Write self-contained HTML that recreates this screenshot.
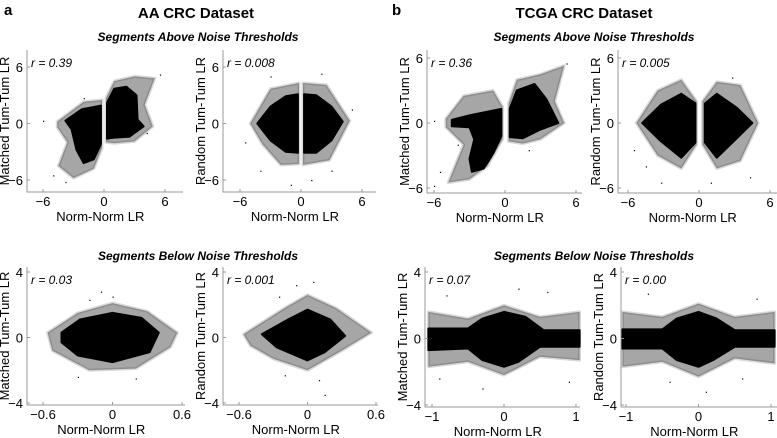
<!DOCTYPE html>
<html><head><meta charset="utf-8"><style>
html,body{margin:0;padding:0;background:#fff}
svg{display:block;font-family:"Liberation Sans",sans-serif}
</style></head><body>
<svg id="fig" width="777" height="438" viewBox="0 0 777 438">
<text x="4" y="15" font-size="15" font-weight="bold">a</text>
<text x="392" y="15" font-size="15" font-weight="bold">b</text>
<text x="196" y="18" font-size="15" font-weight="bold" text-anchor="middle">AA CRC Dataset</text>
<text x="584" y="18" font-size="15" font-weight="bold" text-anchor="middle">TCGA CRC Dataset</text>
<text x="198" y="41" font-size="12" font-weight="bold" font-style="italic" text-anchor="middle">Segments Above Noise Thresholds</text>
<text x="594" y="41" font-size="12" font-weight="bold" font-style="italic" text-anchor="middle">Segments Above Noise Thresholds</text>
<text x="198" y="260" font-size="12" font-weight="bold" font-style="italic" text-anchor="middle">Segments Below Noise Thresholds</text>
<text x="594" y="260" font-size="12" font-weight="bold" font-style="italic" text-anchor="middle">Segments Below Noise Thresholds</text>
</svg>
<script>
// ---- data (density envelopes in data units) ----
const xTicksBig = [-6, 0, 6];
const yTicksBig = [-6, 0, 6];
const xTicksAA = [-0.6, 0, 0.6];
const xTicksTC = [-1, 0, 1];
const yTicksSmall = [-4, 0, 4];
const rLabels = ["r = 0.39", "r = 0.008", "r = 0.03", "r = 0.001", "r = 0.36", "r = 0.005", "r = 0.07", "r = 0.00"];
const yLabels = ["Matched Tum-Tum LR", "Random Tum-Tum LR", "Matched Tum-Tum LR", "Random Tum-Tum LR", "Matched Tum-Tum LR", "Random Tum-Tum LR", "Matched Tum-Tum LR", "Random Tum-Tum LR"];

const p1Core = [
 [[-3.8,0.3],[-2.2,1.5],[-0.3,1.9],[-0.3,-2.2],[-1,-3.8],[-2,-4.2],[-2.7,-2.8],[-3.2,-0.6]],
 [[0.3,-1.6],[0.3,2.2],[1,3.7],[2.2,3.9],[3.2,3],[3.3,0.4],[3.9,-0.3],[2.5,-1.4],[1,-1.5]]];
const p1Halo = [
 [[-4.6,0.2],[-2,2.3],[-0.2,2.5],[-0.2,-2.6],[-1,-4.8],[-3,-5.8],[-4.5,-4.5],[-3.6,-2],[-4.6,-0.4]],
 [[0.2,-2],[0.2,2.7],[1,4.5],[3,5],[5,4.8],[4,2],[4.8,-0.3],[3,-1.9],[1,-2.1]]];
const p1Pts = [[-6,0.3],[-5,-5.5],[5.5,5.2],[-3.8,-6.2],[4.2,-1],[-2,2.7]];

const p2Core = [
 [[-4.3,0],[-3,1.8],[-1.5,2.9],[-0.3,3.1],[-0.3,-3.1],[-1.5,-3],[-3,-1.8]],
 [[0.3,3.1],[1.5,3],[3,1.8],[4.1,0.2],[3,-1.8],[1.5,-3.1],[0.3,-3.1]]];
const p2Halo = [
 [[-5,0],[-3,3.7],[-0.2,4.3],[-0.2,-4.3],[-2,-4.4],[-3.8,-2.2]],
 [[0.2,4.3],[2.5,4.1],[4.8,0.3],[2.8,-3.9],[0.2,-4.4]]];
const p2Pts = [[-3,5],[2,5.3],[-1,-6.5],[1,-6],[-5.5,-2],[5,1.5],[-4,-5],[3,-5]];

const p3Core = [[[-0.44,0.3],[-0.28,1.1],[0,1.5],[0.25,1.2],[0.4,0.3],[0.32,-0.9],[0,-1.5],[-0.3,-1.1],[-0.44,-0.3]]];
const p3Halo = [[[-0.56,0.3],[-0.3,1.5],[0,2.1],[0.3,1.6],[0.56,0.3],[0.5,-0.6],[0.2,-1.9],[-0.2,-2],[-0.52,-0.8]]];
const p3Pts = [[-0.1,2.8],[0,2.5],[-0.3,-2.4],[0.2,-2.5],[-0.2,2.3]];

const p4Core = [[[-0.4,0.2],[-0.17,1.1],[0,1.7],[0.2,1.1],[0.33,0.1],[0.15,-0.9],[0,-1.4],[-0.27,-0.6]]];
const p4Halo = [[[-0.56,0.2],[-0.2,1.8],[0,2.6],[0.25,1.8],[0.56,0.3],[0.3,-0.8],[0,-2],[-0.3,-1.3],[-0.5,-0.5]]];
const p4Pts = [[-0.1,3.2],[0.05,3.4],[0.1,-2.6],[0.15,-3.5],[-0.2,-2.3],[-0.25,2.5]];

const p5Core = [
 [[-4.5,0.3],[-3,0.7],[-0.3,1.3],[-0.3,-1.2],[-1,-2.8],[-1.8,-4.2],[-2.8,-4.5],[-3,-3.3],[-2.6,-1.5],[-3,-0.4],[-4.5,-0.3]],
 [[0.4,-1.3],[0.4,1.3],[1,3],[2.5,3.6],[3.5,2.2],[4.5,0],[3,-0.6],[1.5,-1.4]]];
const p5Halo = [
 [[-5,0.4],[-3.5,2.5],[-1,3],[-0.2,1.5],[-0.2,-1.5],[-1.5,-4],[-3,-5.2],[-4.8,-5.5],[-3.5,-2],[-5,-0.4]],
 [[0.3,-1.7],[0.3,1.8],[1,4],[3,4.5],[5,5.3],[4.2,2],[5,0],[3,-1.5],[1.5,-1.9]]];
const p5Pts = [[-6,-5.8],[-5.5,-4.5],[-4,-2],[5.2,5.5],[-6,0.2],[2,-2.5]];

const p6Core = [
 [[-4.8,0],[-3.2,1.7],[-1.5,2.7],[-0.3,1.8],[-0.3,-1.8],[-1.5,-3.2],[-3.2,-1.7]],
 [[0.5,1.8],[1.5,2.7],[3.2,1.4],[4.5,0],[3.2,-1.4],[1.5,-3.2],[0.5,-1.8]]];
const p6Halo = [
 [[-5.3,0],[-3.5,3],[-1.5,4],[-0.2,2],[-0.2,-2],[-1.5,-4.2],[-3.5,-3]],
 [[0.3,2],[1.5,3.8],[3.5,3.5],[5,0],[3.5,-3.5],[1.5,-4.2],[0.3,-2]]];
const p6Pts = [[-4.5,-4],[-3.2,-5.5],[4.3,-5],[-5.5,-2.5],[1,-5.5],[2.8,4.2]];

const p7Core = [[[-1.05,0.6],[-0.5,0.6],[-0.3,1.2],[0,1.6],[0.3,1.3],[0.55,0.5],[1.05,0.5],[1.05,-0.5],[0.5,-0.5],[0.2,-1.4],[0,-1.7],[-0.3,-1.3],[-0.5,-0.6],[-1.05,-0.7]]];
const p7Halo = [[[-1.05,1.6],[-0.5,1.2],[0,2],[0.5,1.3],[1.05,1.6],[1.05,-1.3],[0.5,-1.1],[0,-2.2],[-0.5,-1.4],[-1.05,-1.7]]];
const p7Pts = [[-0.8,2.6],[0.6,2.8],[-0.3,-3],[0.9,-2.6],[-0.9,-2.4],[0.2,3]];

const p8Core = [[[-1.05,0.55],[-0.5,0.55],[-0.3,1.2],[0,1.6],[0.25,1.2],[0.5,0.5],[1.05,0.5],[1.05,-0.5],[0.5,-0.5],[0.2,-1.3],[0,-1.7],[-0.3,-1.3],[-0.5,-0.6],[-1.05,-0.6]]];
const p8Halo = [[[-1.05,1.6],[-0.5,1.3],[0,2.1],[0.5,1.3],[1.05,1.6],[1.05,-1.5],[0.5,-1.2],[0,-2.3],[-0.5,-1.4],[-1.05,-1.7]]];
const p8Pts = [[-0.7,2.7],[0.8,2.4],[0.1,-3.2],[-0.4,-2.6],[0.6,-2.4]];

// ---- layout ----
const panels = [
 {id:"aa-above-matched", core:p1Core, halo:p1Halo, pts:p1Pts, xt:xTicksBig, yt:yTicksBig, xd:[-6,6], xp:[43,165], yd:[6,-6], yp:[67,180], L:27, R:183, T:50, B:192},
 {id:"aa-above-random", core:p2Core, halo:p2Halo, pts:p2Pts, xt:xTicksBig, yt:yTicksBig, xd:[-6,6], xp:[240,362], yd:[6,-6], yp:[67,180], L:223, R:376, T:50, B:192},
 {id:"aa-below-matched", core:p3Core, halo:p3Halo, pts:p3Pts, xt:xTicksAA, yt:yTicksSmall, xd:[-0.6,0.6], xp:[43,182], yd:[4,-4], yp:[272,403], L:27, R:185, T:267, B:405},
 {id:"aa-below-random", core:p4Core, halo:p4Halo, pts:p4Pts, xt:xTicksAA, yt:yTicksSmall, xd:[-0.6,0.6], xp:[239,376], yd:[4,-4], yp:[272,403], L:223, R:378, T:267, B:405},
 {id:"tcga-above-matched", core:p5Core, halo:p5Halo, pts:p5Pts, xt:xTicksBig, yt:yTicksBig, xd:[-6,6], xp:[434,576], yd:[6,-6], yp:[58,188], L:427, R:582, T:50, B:193},
 {id:"tcga-above-random", core:p6Core, halo:p6Halo, pts:p6Pts, xt:xTicksBig, yt:yTicksBig, xd:[-6,6], xp:[628,770], yd:[6,-6], yp:[58,188], L:618, R:777, T:50, B:193},
 {id:"tcga-below-matched", core:p7Core, halo:p7Halo, pts:p7Pts, xt:xTicksTC, yt:yTicksSmall, xd:[-1,1], xp:[432,576], yd:[4,-4], yp:[272,405], L:425, R:580, T:267, B:407},
 {id:"tcga-below-random", core:p8Core, halo:p8Halo, pts:p8Pts, xt:xTicksTC, yt:yTicksSmall, xd:[-1,1], xp:[626,771], yd:[4,-4], yp:[272,405], L:621, R:777, T:267, B:407}
];
const NS = "http://www.w3.org/2000/svg";
const svg = document.getElementById("fig");
function mk(tag, attrs, parent){const e=document.createElementNS(NS,tag);for(const k in attrs)e.setAttribute(k,attrs[k]);parent.appendChild(e);return e;}
function scale(d,p){return v=>p[0]+(v-d[0])*(p[1]-p[0])/(d[1]-d[0]);}
function pathOf(poly,sx,sy){return "M"+poly.map(q=>sx(q[0]).toFixed(1)+","+sy(q[1]).toFixed(1)).join("L")+"Z";}

panels.forEach((P,i)=>{
  const sx=scale(P.xd,P.xp), sy=scale(P.yd,P.yp);
  const g=mk("g",{},svg);
  
  
  P.halo.forEach(poly=>{
    const e=mk("path",{d:pathOf(poly,sx,sy),fill:"#000","fill-opacity":"0.35",stroke:"#000","stroke-opacity":"0.15","stroke-width":"3","stroke-linejoin":"round"},g);
    
    
  });
  P.core.forEach(poly=>{
    const e=mk("path",{d:pathOf(poly,sx,sy),fill:"#000",stroke:"#000","stroke-width":"2","stroke-linejoin":"round"},g);
    
    
  });
  P.pts.forEach(q=>{
    const e=mk("rect",{x:sx(q[0]).toFixed(1),y:sy(q[1]).toFixed(1),width:1.2,height:1.2,fill:"#000"},g);
    
    
  });
  const ax=mk("g",{},svg);
  
  
  mk("path",{d:`M${P.L},${P.T}V${P.B}H${P.R}`,fill:"none",stroke:"#999","stroke-width":"1"},ax);
  P.xt.forEach(t=>{
    const x=sx(t);
    mk("line",{x1:x,x2:x,y1:P.B,y2:P.B-3,stroke:"#999"},ax);
    const tx=mk("text",{x:x,y:P.B+14,"font-size":"13","text-anchor":"middle"},ax);
    tx.textContent=String(t).replace("-","\u2212");
    
    
  });
  P.yt.forEach(t=>{
    const y=sy(t);
    mk("line",{x1:P.L,x2:P.L+3,y1:y,y2:y,stroke:"#999"},ax);
    const tx=mk("text",{x:P.L-4,y:y+5,"font-size":"13","text-anchor":"end"},ax);
    tx.textContent=String(t).replace("-","\u2212");
    
    
  });
  const xl=mk("text",{x:(P.L+P.R)/2-(P.R-P.L)*0.03,y:P.B+29,"font-size":"13","text-anchor":"middle"},ax);
  xl.textContent="Norm-Norm LR";
  
  
  const yc=(P.T+P.B)/2, yx=P.L-18;
  const yl=mk("text",{x:yx,y:yc,"font-size":"13","text-anchor":"middle",transform:`rotate(-90 ${yx} ${yc})`},ax);
  yl.textContent=yLabels[i];
  
  
  const rl=mk("text",{x:P.L+4,y:P.T+17,"font-size":"12","font-style":"italic"},ax);
  rl.textContent=rLabels[i];
  
  
});
</script>
</body></html>
